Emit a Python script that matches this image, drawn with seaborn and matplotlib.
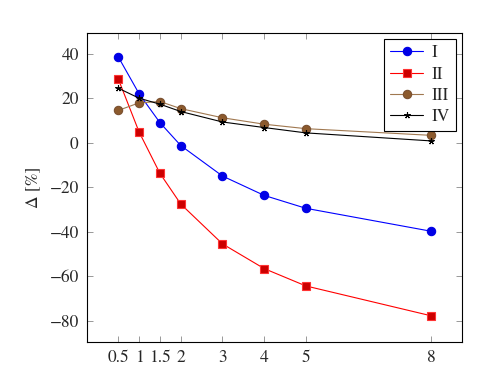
import matplotlib
matplotlib.use("Agg")
import matplotlib.pyplot as plt
import seaborn as sns

# values
x_vals = [0.5, 1, 1.5, 2, 3, 4, 5, 8]
serie_I = [38.6, 22.0, 9.0, -1.3, -15.0, -23.7, -29.5, -39.8]
serie_II = [28.7, 4.8, -13.8, -27.6, -45.5, -56.6, -64.4, -77.8]
serie_III = [14.5, 17.9, 18.5, 15.3, 11.2, 8.3, 6.3, 3.3]
serie_IV = [24.5, 20.0, 17.3, 14.0, 9.3, 6.8, 4.4, 0.8]
x_ticks = [0.5, 1, 1.5, 2, 3, 4, 5, 8]
y_ticks = [-80, -60, -40, -20, 0, 20, 40]

sns.set_style("ticks")
plt.rcParams['font.family'] = ['STIXGeneral', 'DejaVu Serif']
plt.rcParams['mathtext.fontset'] = 'stix'
plt.rcParams['axes.unicode_minus'] = True

fig = plt.figure(figsize=(4.97, 3.75), dpi=100)
ax = fig.add_axes([0.175, 0.088, 0.755, 0.824])

# (label, values, line colour, marker, marker face, marker edge, size)
series = [
    ('I', serie_I, '#0000ff', 'o', '#0000e6', '#0000e6', 6),
    ('II', serie_II, '#ff0000', 's', '#cc0000', '#ff3333', 5.8),
    ('III', serie_III, '#a07850', 'o', '#8c5a2d', '#7a5030', 6),
    ('IV', serie_IV, '#000000', (5, 2, 0), '#000000', '#000000', 4.5),
]

for label, vals, col, mk, mfc, mec, ms in series:
    sns.lineplot(x=x_vals, y=vals, ax=ax, color=col, linewidth=0.8,
                 marker=mk, markersize=ms, markerfacecolor=mfc,
                 markeredgecolor=mec, markeredgewidth=0.8, label=label)

ax.set_xlim(-0.25, 8.75)
ax.set_ylim(-89.6, 49.3)
ax.set_xticks(x_ticks)
ax.set_xticklabels(['0.5', '1', '1.5', '2', '3', '4', '5', '8'])
ax.set_yticks(y_ticks)
ax.set_yticklabels(['\u221280', '\u221260', '\u221240', '\u221220', '0', '20', '40'])
ax.set_ylabel('\u0394 [%]', fontsize=12.5, labelpad=6)
ax.set_xlabel('')

ax.tick_params(axis='both', direction='in', length=4, width=0.6,
               color='#888888', labelsize=12.5, top=True, right=True, pad=6)
for s in ax.spines.values():
    s.set_color('black')
    s.set_linewidth(0.8)

leg = ax.legend(loc='upper right', fancybox=False, framealpha=1,
                edgecolor='black', fontsize=12.5, handlelength=1.9,
                borderpad=0.35, labelspacing=0.3, borderaxespad=0.35,
                handletextpad=0.5)
leg.get_frame().set_linewidth(0.8)

fig.savefig('out.png', dpi=100)
